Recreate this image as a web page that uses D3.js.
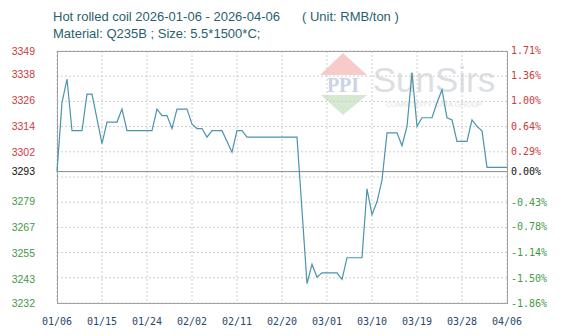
<!DOCTYPE html>
<html>
<head>
<meta charset="utf-8">
<script src="https://cdn.jsdelivr.net/npm/d3@7"></script>
<style>
    body { margin: 0; background: #fff; }
    #price-chart { width: 571px; height: 336px; }
    .title { font-family: "Liberation Sans", Arial, sans-serif; font-size: 13px; fill: #2b5f6e; }
    .leftLabel { font-family: "Liberation Sans", Arial, sans-serif; font-size: 10.5px; }
    .rightLabel, .dateLabel { font-family: "DejaVu Sans Mono", monospace; font-size: 10px; }
</style>
</head>
<body>
<div id="price-chart"></div>
<script>
// price data (RMB/ton)
var dates = ["2026-01-06","2026-01-07","2026-01-08","2026-01-09","2026-01-11","2026-01-12","2026-01-13",
    "2026-01-15","2026-01-16","2026-01-18","2026-01-19","2026-01-20","2026-01-25","2026-01-26","2026-01-27",
    "2026-01-28","2026-01-29","2026-01-30","2026-02-01","2026-02-02","2026-02-03","2026-02-04","2026-02-05",
    "2026-02-06","2026-02-08","2026-02-10","2026-02-11","2026-02-12","2026-02-13","2026-02-23","2026-02-25",
    "2026-02-26","2026-02-27","2026-02-28","2026-03-03","2026-03-04","2026-03-05","2026-03-08","2026-03-09",
    "2026-03-10","2026-03-11","2026-03-12","2026-03-13","2026-03-15","2026-03-16","2026-03-17","2026-03-18",
    "2026-03-19","2026-03-20","2026-03-22","2026-03-23","2026-03-24","2026-03-25","2026-03-26","2026-03-27",
    "2026-03-29","2026-03-30","2026-03-31","2026-04-01","2026-04-02","2026-04-06"];
var prices = [3293,3325,3336,3312,3312,3329,3329,
    3306,3316,3316,3322,3312,3312,3322,3319,
    3319,3313,3322,3322,3315,3313,3313,3309,
    3312,3312,3302,3312,3312,3309,3309,3241,
    3250,3244,3246,3246,3243,3253,3253,3285,
    3273,3279,3289,3311,3311,3305,3314,3339,
    3314,3318,3318,3325,3331,3318,3317,3307,
    3307,3317,3314,3312,3295,3295];

var basePrice = 3293;
var priceRange = [3232, 3349];
var leftTickLabels = [3349, 3338, 3326, 3314, 3302, 3293, 3279, 3267, 3255, 3243, 3232];
var rightTickLabels = [1.71, 1.36, 1.00, 0.64, 0.29, 0.00, -0.43, -0.78, -1.14, -1.50, -1.86];
var xTickLabels = ["01/06","01/15","01/24","02/02","02/11","02/20","03/01","03/10","03/19","03/28","04/06"];

/**
 * Constructor for the price line chart
 */
function PriceChart(){
    var self = this;
    self.init();
};

/**
 * Sets up the svg, scales and the static frame
 */
PriceChart.prototype.init = function(){
    var self = this;
    self.margin = {top: 51, right: 64, bottom: 33, left: 57};
    self.width = 571;
    self.height = 336;

    var div = d3.select("#price-chart");
    self.svg = div.append("svg")
        .attr("width", self.width)
        .attr("height", self.height);

    var parse = d3.utcParse("%Y-%m-%d");
    self.data = dates.map(function(d, i){ return {date: parse(d), price: prices[i]}; });

    self.xScale = d3.scaleUtc()
        .domain([parse("2026-01-06"), parse("2026-04-06")])
        .range([self.margin.left, self.width - self.margin.right]);
    self.yScale = d3.scaleLinear()
        .domain(priceRange)
        .range([self.height - self.margin.bottom, self.margin.top]);
};

/**
 * Puts the SunSirs watermark behind the line
 */
PriceChart.prototype.drawWatermark = function(){
    var self = this;
    var g = self.svg.append("g").attr("opacity", 0.85);

    g.append("path")
        .attr("d", "M343,53 L367,75 L320,75 Z")
        .attr("fill", "#f6c2c0");
    g.append("text")
        .attr("x", 343).attr("y", 92)
        .attr("text-anchor", "middle")
        .style("font-family", "Liberation Serif, serif")
        .style("font-size", "20px")
        .style("font-weight", "bold")
        .attr("fill", "#c3cce0")
        .text("PPI");
    g.append("path")
        .attr("d", "M321,95 L367,95 L343,115 Z")
        .attr("fill", "#cfe6c8");
    g.append("text")
        .attr("x", 434).attr("y", 92)
        .attr("text-anchor", "middle")
        .style("font-family", "Liberation Sans, Arial, sans-serif")
        .style("font-size", "35px")
        .attr("fill", "#d6dade")
        .text("SunSirs");
    g.append("text")
        .attr("x", 434).attr("y", 107)
        .attr("text-anchor", "middle")
        .style("font-family", "Liberation Sans, Arial, sans-serif")
        .style("font-size", "7.5px")
        .attr("fill", "#dcdcdc")
        .text("COMMODITY DATA GROUP");
};

/**
 * Draws titles, grid, axes labels and the price line
 */
PriceChart.prototype.update = function(){
    var self = this;
    var svg = self.svg;
    var x = self.xScale, y = self.yScale;
    var left = self.margin.left, right = self.width - self.margin.right;
    var top = self.margin.top, bottom = self.height - self.margin.bottom;

    svg.append("text").attr("class", "title")
        .attr("x", 53).attr("y", 21)
        .text("Hot rolled coil 2026-01-06 - 2026-04-06");
    svg.append("text").attr("class", "title")
        .attr("x", 302).attr("y", 21)
        .text("( Unit: RMB/ton )");
    svg.append("text").attr("class", "title")
        .attr("x", 53).attr("y", 38)
        .text("Material: Q235B ; Size: 5.5*1500*C;");

    self.drawWatermark();

    //horizontal grid, evenly split over the price range
    var gridValues = d3.range(11).map(function(i){
        return priceRange[0] + i * (priceRange[1] - priceRange[0]) / 10;
    });
    svg.selectAll("line.hgrid").data(gridValues)
        .enter().append("line")
        .attr("class", "hgrid")
        .attr("x1", left).attr("x2", right)
        .attr("y1", function(d){ return y(d); })
        .attr("y2", function(d){ return y(d); })
        .attr("stroke", "#cfcfcf")
        .attr("stroke-dasharray", "2,2");

    //vertical grid at the date ticks
    var tickDates = xTickLabels.map(function(t){
        return d3.utcParse("%Y/%m/%d")("2026/" + t);
    });
    svg.selectAll("line.vgrid").data(tickDates)
        .enter().append("line")
        .attr("class", "vgrid")
        .attr("x1", function(d){ return x(d); })
        .attr("x2", function(d){ return x(d); })
        .attr("y1", top).attr("y2", bottom)
        .attr("stroke", "#cfcfcf")
        .attr("stroke-dasharray", "2,2");

    //base price line (0.00%)
    svg.append("line")
        .attr("x1", left).attr("x2", right)
        .attr("y1", y(basePrice)).attr("y2", y(basePrice))
        .attr("stroke", "#8a8a8a")
        .attr("stroke-width", 1);

    svg.append("rect")
        .attr("x", left + 0.5).attr("y", top + 0.5)
        .attr("width", right - left).attr("height", bottom - top)
        .attr("fill", "none")
        .attr("stroke", "#a0a0a0");

    function labelColor(v){
        if (v > 0) return "#cc3b3b";
        else if (v < 0) return "#3f9a45";
        return "#111";
    }

    svg.selectAll("text.leftLabel").data(leftTickLabels)
        .enter().append("text")
        .attr("class", "leftLabel")
        .attr("x", 35)
        .attr("y", function(d){ return y(d); })
        .attr("dy", "0.35em")
        .attr("text-anchor", "end")
        .attr("fill", function(d){ return labelColor(d - basePrice); })
        .text(function(d){ return d; });

    svg.selectAll("text.rightLabel").data(rightTickLabels)
        .enter().append("text")
        .attr("class", "rightLabel")
        .attr("x", 511)
        .attr("y", function(d){ return y(basePrice * (1 + d / 100)); })
        .attr("dy", "0.35em")
        .attr("fill", function(d){ return labelColor(d); })
        .text(function(d){ return d.toFixed(2) + "%"; });

    svg.selectAll("text.dateLabel").data(tickDates)
        .enter().append("text")
        .attr("class", "dateLabel")
        .attr("x", function(d){ return x(d); })
        .attr("y", bottom + 22)
        .attr("text-anchor", "middle")
        .attr("fill", "#27496b")
        .text(function(d, i){ return xTickLabels[i]; });

    var line = d3.line()
        .x(function(d){ return x(d.date); })
        .y(function(d){ return y(d.price); });

    svg.append("path")
        .datum(self.data)
        .attr("d", line)
        .attr("fill", "none")
        .attr("stroke", "#4b93ae")
        .attr("stroke-width", 1.2);
};

var chart = new PriceChart();
chart.update();
</script>
</body>
</html>
